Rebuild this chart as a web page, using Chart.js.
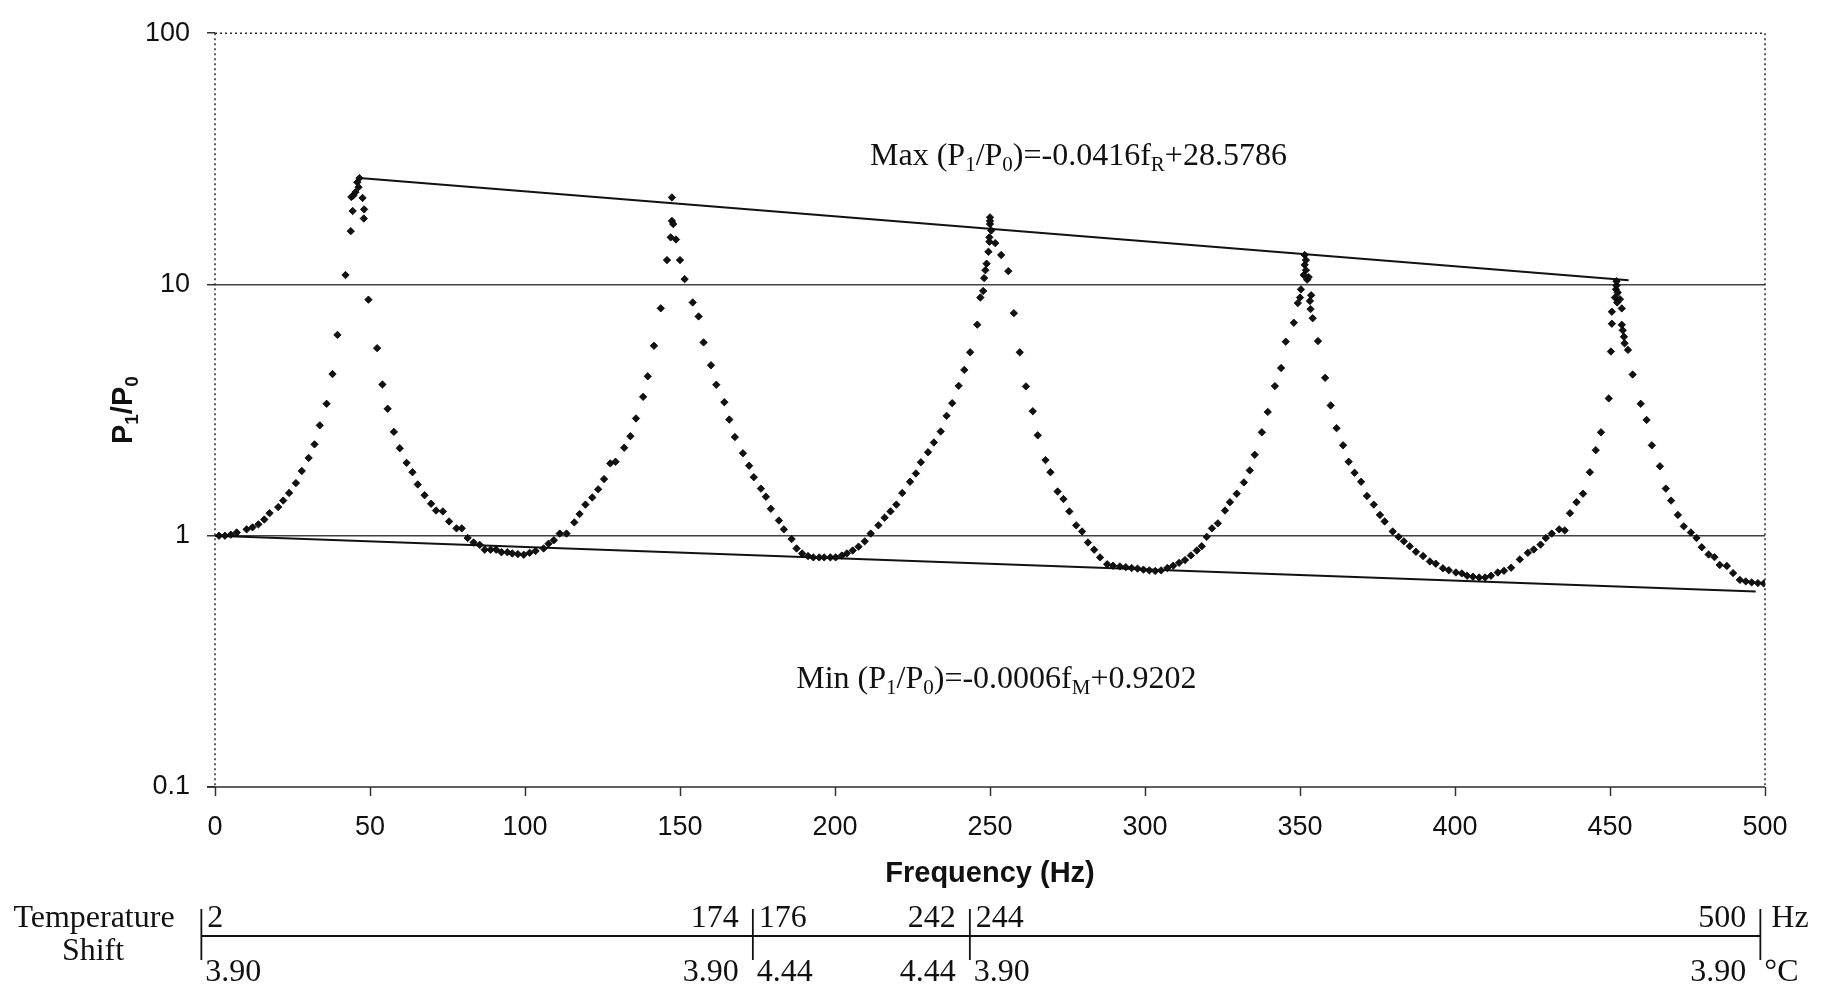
<!DOCTYPE html>
<html>
<head>
<meta charset="utf-8">
<title>P1/P0 vs Frequency</title>
<script src="https://cdn.jsdelivr.net/npm/chart.js@4.4.1/dist/chart.umd.min.js"></script>
<style>
    html, body { margin: 0; padding: 0; background: #fff; }
    #wrap { width: 1827px; height: 997px; }
</style>
</head>
<body>
<div id="wrap"><canvas id="ratioChart" width="1827" height="997"></canvas></div>
<script>
// Measured pressure ratio P1/P0 against excitation frequency (Hz)
const freqHz = [
    1.3, 3.2, 5.1, 7.0, 10.2, 12.1, 14.0, 15.9, 17.6, 20.4, 22.0, 23.9, 26.1, 28.0, 30.2, 32.1, 33.8, 36.0,
    37.9, 39.5, 42.1, 43.8, 44.4, 44.0, 44.6, 45.3, 45.9, 46.3, 46.6, 47.6, 48.1, 48.0, 49.5, 52.3, 54.0, 55.7,
    57.7, 59.6, 61.8, 63.7, 65.4, 67.6, 69.7, 71.3, 73.5, 75.5, 77.9, 79.6, 81.5, 83.4, 85.4, 87.0, 88.9, 90.7,
    92.4, 94.3, 95.9, 97.7, 99.6, 101.5, 103.4, 106.0, 107.6, 109.3, 111.2, 113.4, 115.9, 117.6, 119.5, 121.7,
    123.6, 125.5, 127.5, 129.2, 132.0, 134.0, 135.8, 138.1, 139.6, 141.6, 143.8, 145.8, 147.0, 147.4, 147.8, 147.4,
    148.7, 150.0, 151.5, 154.1, 156.0, 157.6, 160.0, 161.7, 164.3, 165.9, 167.7, 170.3, 172.3, 173.8, 176.1, 177.7,
    179.3, 181.9, 183.5, 186.0, 187.6, 189.4, 191.3, 193.0, 194.9, 196.5, 198.5, 200.2, 202.2, 203.8, 205.7, 207.6,
    209.6, 211.5, 214.0, 216.0, 217.9, 219.8, 221.7, 224.2, 226.1, 227.7, 230.0, 231.9, 234.1, 236.0, 237.8, 239.9,
    241.7, 243.6, 245.9, 246.9, 247.8, 248.1, 248.5, 248.9, 249.5, 249.8, 249.8, 250.0, 250.0, 250.0, 250.4, 251.7,
    253.6, 255.9, 257.7, 259.6, 261.6, 263.8, 265.4, 267.9, 269.5, 271.8, 273.7, 275.6, 277.8, 279.7, 281.6, 283.6,
    285.5, 287.8, 289.7, 291.9, 293.8, 295.7, 297.6, 299.5, 301.4, 303.3, 305.2, 307.2, 309.1, 311.0, 312.9, 314.8,
    316.7, 318.3, 319.9, 321.6, 323.5, 325.8, 327.4, 329.6, 331.9, 333.8, 335.4, 337.7, 339.6, 341.9, 343.9, 345.4,
    348.0, 349.3, 350.0, 350.3, 351.2, 351.5, 351.9, 351.5, 351.9, 352.3, 352.8, 353.2, 353.4, 353.6, 354.1, 355.8,
    358.1, 359.9, 361.8, 363.9, 365.7, 367.6, 369.7, 371.6, 373.8, 375.8, 377.3, 379.9, 381.8, 383.5, 385.4, 387.4,
    389.7, 391.9, 393.8, 396.1, 398.0, 400.3, 402.2, 403.9, 405.8, 407.8, 409.7, 411.6, 413.8, 415.8, 418.1, 420.9,
    423.5, 425.4, 427.6, 429.3, 431.2, 433.6, 435.4, 437.1, 439.2, 441.3, 443.5, 445.4, 447.1, 449.6, 450.3, 450.6,
    450.6, 451.6, 451.9, 452.1, 452.1, 452.3, 452.5, 453.2, 453.8, 453.8, 454.1, 454.5, 454.7, 455.8, 457.3, 459.9,
    461.8, 463.5, 466.1, 468.0, 469.7, 471.9, 473.8, 476.1, 477.9, 479.6, 481.8, 483.7, 485.4, 487.7, 489.7, 491.9,
    493.8, 495.7, 497.7, 499.6
];
const ratio = [
    1.00, 1.00, 1.01, 1.03, 1.06, 1.08, 1.11, 1.16, 1.23, 1.30, 1.38, 1.48, 1.62, 1.81, 2.04, 2.31, 2.75, 3.35,
    4.40, 6.30, 10.9, 16.3, 19.6, 22.3, 22.6, 23.3, 25.5, 24.4, 26.5, 22.1, 19.9, 18.3, 8.70, 5.58, 4.00, 3.20,
    2.59, 2.23, 1.95, 1.79, 1.60, 1.45, 1.34, 1.26, 1.25, 1.14, 1.07, 1.07, 0.98, 0.94, 0.92, 0.88, 0.88, 0.88,
    0.86, 0.86, 0.85, 0.845, 0.84, 0.855, 0.87, 0.89, 0.93, 0.96, 1.02, 1.02, 1.13, 1.22, 1.33, 1.42,
    1.53, 1.68, 1.94, 1.97, 2.24, 2.49, 2.93, 3.57, 4.31, 5.70, 8.04, 12.5, 15.4, 17.9, 17.4, 22.2,
    15.1, 12.5, 10.5, 8.48, 7.46, 5.88, 4.77, 3.99, 3.40, 2.90, 2.47, 2.13, 1.90, 1.71, 1.54, 1.43,
    1.28, 1.15, 1.06, 0.97, 0.89, 0.85, 0.83, 0.82, 0.82, 0.82, 0.82, 0.82, 0.834, 0.85, 0.873, 0.905,
    0.95, 1.02, 1.10, 1.18, 1.25, 1.33, 1.48, 1.64, 1.77, 1.96, 2.15, 2.35, 2.60, 3.00, 3.37, 3.95,
    4.57, 5.37, 6.92, 8.87, 9.42, 10.6, 11.4, 12.1, 13.5, 14.8, 15.4, 17.4, 17.9, 18.5, 16.4, 14.6,
    13.1, 11.3, 7.69, 5.37, 3.93, 3.13, 2.51, 2.00, 1.79, 1.50, 1.40, 1.25, 1.10, 1.04, 0.94, 0.88,
    0.82, 0.77, 0.76, 0.755, 0.75, 0.744, 0.74, 0.733, 0.728, 0.724, 0.728, 0.744, 0.76, 0.78, 0.80, 0.835,
    0.873, 0.908, 0.99, 1.07, 1.12, 1.26, 1.36, 1.47, 1.63, 1.82, 2.10, 2.58, 3.11, 3.94, 4.65, 5.92,
    7.04, 8.43, 8.87, 9.56, 10.9, 11.97, 11.4, 13.1, 12.5, 10.45, 10.7, 8.60, 7.98, 9.06, 7.34, 5.95,
    4.25, 3.30, 2.68, 2.29, 1.97, 1.78, 1.64, 1.44, 1.33, 1.21, 1.14, 1.04, 0.99, 0.95, 0.908, 0.863,
    0.83, 0.79, 0.774, 0.742, 0.729, 0.714, 0.708, 0.693, 0.687, 0.682, 0.682, 0.693, 0.714, 0.725, 0.746, 0.805,
    0.855, 0.881, 0.922, 0.979, 1.02, 1.06, 1.05, 1.23, 1.36, 1.47, 1.79, 2.19, 2.58, 3.52, 5.41, 6.98,
    7.79, 8.87, 9.56, 9.91, 10.3, 8.48, 9.28, 8.74, 8.03, 6.91, 6.57, 6.19, 5.83, 5.49, 4.38, 3.35,
    2.89, 2.29, 1.89, 1.54, 1.38, 1.21, 1.09, 1.03, 0.98, 0.90, 0.842, 0.822, 0.765, 0.758, 0.71, 0.667,
    0.658, 0.652, 0.648, 0.646
];

// Envelope lines through the resonance maxima and the minima
const maxLineHz = [46.6, 456];
const maxLineRatio = [26.5, 10.4];
const minLineHz = [0, 497];
const minLineRatio = [1.0, 0.6];

const yTickValues = [0.1, 1, 10, 100];
const xTickStep = 50;

// Temperature shift strip: segment dividers (Hz) and the labels at each segment end
const bandDividersHz = [-4.4, 173.5, 243.5, 498.5];
const bandFreqLabels = ['2', '174', '176', '242', '244', '500'];
const bandTempLabels = ['3.90', '3.90', '4.44', '4.44', '3.90', '3.90'];

// Equation labels, [text, isSubscript]
const maxEquation = [['Max (P', 0], ['1', 1], ['/P', 0], ['0', 1], [')=-0.0416f', 0], ['R', 1], ['+28.5786', 0]];
const minEquation = [['Min (P', 0], ['1', 1], ['/P', 0], ['0', 1], [')=-0.0006f', 0], ['M', 1], ['+0.9202', 0]];
const maxEquationAt = { hz: 211.3, ratio: 30.0 };
const minEquationAt = { hz: 187.5, ratio: 0.248 };

const SANS = '"Liberation Sans", Arial, sans-serif';
const SERIF = '"Liberation Serif", "Times New Roman", serif';

function richWidth(ctx, parts, size, family, weight) {
    let w = 0;
    parts.forEach(([t, sub]) => {
        ctx.font = `${weight} ${sub ? Math.round(size * 0.66) : size}px ${family}`;
        w += ctx.measureText(t).width;
    });
    return w;
}

function drawRich(ctx, parts, x, y, size, family, weight) {
    let cx = x;
    parts.forEach(([t, sub]) => {
        ctx.font = `${weight} ${sub ? Math.round(size * 0.66) : size}px ${family}`;
        ctx.fillText(t, cx, sub ? y + size * 0.2 : y);
        cx += ctx.measureText(t).width;
    });
}

function strokeLine(ctx, x1, y1, x2, y2) {
    ctx.beginPath();
    ctx.moveTo(x1, y1);
    ctx.lineTo(x2, y2);
    ctx.stroke();
}

const decorations = {
    id: 'decorations',
    afterDraw(chart) {
        const { ctx, chartArea: a, scales: { x, y } } = chart;
        ctx.save();

        // plot frame: dotted top/left/right, solid bottom axis
        ctx.strokeStyle = '#2b2b2b';
        ctx.lineWidth = 1.5;
        ctx.setLineDash([2, 3]);
        strokeLine(ctx, a.left, a.top, a.right, a.top);
        strokeLine(ctx, a.right, a.top, a.right, a.bottom);
        strokeLine(ctx, a.left, a.top, a.left, a.bottom);
        ctx.setLineDash([]);
        strokeLine(ctx, a.left - 8, a.bottom, a.right, a.bottom);

        ctx.fillStyle = '#111';

        // axis titles
        ctx.textBaseline = 'middle';
        ctx.textAlign = 'center';
        ctx.font = `bold 29px ${SANS}`;
        ctx.fillText('Frequency (Hz)', (a.left + a.right) / 2, a.bottom + 87);

        const yTitle = [['P', 0], ['1', 1], ['/P', 0], ['0', 1]];
        ctx.save();
        ctx.translate(a.left - 93, (a.top + a.bottom) / 2);
        ctx.rotate(-Math.PI / 2);
        ctx.textAlign = 'left';
        ctx.textBaseline = 'alphabetic';
        const tw = richWidth(ctx, yTitle, 29, SANS, 'bold');
        drawRich(ctx, yTitle, -tw / 2, 10, 29, SANS, 'bold');
        ctx.restore();

        // equation labels
        ctx.textAlign = 'left';
        ctx.textBaseline = 'alphabetic';
        drawRich(ctx, maxEquation, x.getPixelForValue(maxEquationAt.hz), y.getPixelForValue(maxEquationAt.ratio), 32, SERIF, '');
        drawRich(ctx, minEquation, x.getPixelForValue(minEquationAt.hz), y.getPixelForValue(minEquationAt.ratio), 32, SERIF, '');

        // temperature shift strip
        const lineY = a.bottom + 149;
        const upperY = a.bottom + 132;
        const lowerY = a.bottom + 186;
        const divX = bandDividersHz.map(f => x.getPixelForValue(f));
        ctx.strokeStyle = '#111';
        ctx.lineWidth = 2;
        strokeLine(ctx, divX[0], lineY, divX[divX.length - 1], lineY);
        ctx.lineWidth = 1.8;
        divX.forEach(px => strokeLine(ctx, px, a.bottom + 122, px, a.bottom + 173));

        ctx.font = `32px ${SERIF}`;
        ctx.textBaseline = 'middle';
        for (let i = 0; i < divX.length - 1; i++) {
            ctx.textAlign = 'left';
            ctx.fillText(bandFreqLabels[2 * i], divX[i] + 6, upperY);
            ctx.fillText(bandTempLabels[2 * i], divX[i] + 4, lowerY);
            ctx.textAlign = 'right';
            ctx.fillText(bandFreqLabels[2 * i + 1], divX[i + 1] - 14, upperY);
            ctx.fillText(bandTempLabels[2 * i + 1], divX[i + 1] - 14, lowerY);
        }
        const last = divX[divX.length - 1];
        ctx.textAlign = 'left';
        ctx.fillText('Hz', last + 11, upperY);
        ctx.fillText('\u00B0C', last + 4, lowerY);

        ctx.textAlign = 'center';
        ctx.fillText('Temperature', a.left - 121, upperY);
        ctx.fillText('Shift', a.left - 122, a.bottom + 165);

        ctx.restore();
    }
};

const ctx = document.getElementById('ratioChart');

new Chart(ctx, {
    type: 'scatter',
    data: {
        datasets: [
            {
                label: 'P1/P0',
                data: freqHz.map((f, i) => ({ x: f, y: ratio[i] })),
                pointStyle: 'rectRot',
                pointRadius: 3.7,
                backgroundColor: '#111',
                borderColor: '#000',
                borderWidth: 0.8
            },
            {
                type: 'line',
                label: 'Max',
                data: maxLineHz.map((f, i) => ({ x: f, y: maxLineRatio[i] })),
                borderColor: '#111',
                borderWidth: 2,
                pointRadius: 0,
                fill: false
            },
            {
                type: 'line',
                label: 'Min',
                data: minLineHz.map((f, i) => ({ x: f, y: minLineRatio[i] })),
                borderColor: '#111',
                borderWidth: 2,
                pointRadius: 0,
                fill: false
            }
        ]
    },
    options: {
        responsive: false,
        animation: false,
        layout: { padding: { left: 0, right: 62, top: 22, bottom: 0 } },
        plugins: {
            legend: { display: false },
            tooltip: { enabled: false }
        },
        scales: {
            x: {
                type: 'linear',
                min: 0,
                max: 500,
                border: { display: false },
                grid: { drawOnChartArea: false, drawTicks: true, tickLength: 9, tickColor: '#333', tickWidth: 1.5 },
                ticks: {
                    stepSize: xTickStep,
                    color: '#111',
                    font: { family: SANS, size: 27 },
                    padding: 15,
                    maxRotation: 0,
                    autoSkip: false
                },
                afterFit: scale => { scale.height = 210; }
            },
            y: {
                type: 'logarithmic',
                min: 0.1,
                max: 100,
                border: { display: false },
                afterBuildTicks: scale => { scale.ticks = yTickValues.map(v => ({ value: v })); },
                grid: {
                    color: c => (c.tick && (c.tick.value === 1 || c.tick.value === 10)) ? '#404040' : 'rgba(0,0,0,0)',
                    lineWidth: 1.5,
                    drawTicks: true,
                    tickLength: 8,
                    tickColor: '#333',
                    tickWidth: 1.5
                },
                ticks: {
                    color: '#111',
                    font: { family: SANS, size: 27 },
                    padding: 17,
                    callback: v => String(v)
                },
                afterFit: scale => { scale.width = 215; }
            }
        }
    },
    plugins: [decorations]
});
</script>
</body>
</html>
